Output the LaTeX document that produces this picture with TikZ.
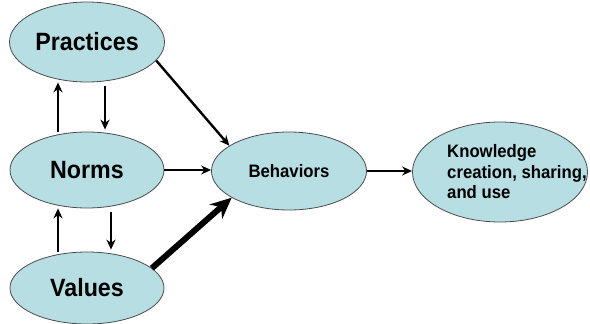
\documentclass[tikz,border=0pt]{standalone}
\usepackage{fontspec}
\setmainfont{Liberation Sans}[FakeStretch=0.93]
\usetikzlibrary{shapes.geometric, arrows.meta}
\definecolor{aqua}{RGB}{183,222,226}
\tikzset{>={Stealth[length=10pt,width=9pt]}}
\tikzset{blob/.style={ellipse, draw=black!70, line width=0.8pt, fill=aqua, inner sep=0pt},
  bigtext/.style={font=\bfseries\fontsize{25}{28}\selectfont},
  smalltext/.style={font=\bfseries\fontsize{18}{20.5}\selectfont},
  link/.style={->, line width=2.4pt}}

\begin{document}
\begin{tikzpicture}[x=1pt,y=-1pt]
    \useasboundingbox (0,0) rectangle (590,324);
    \node[blob, bigtext, minimum width=155, minimum height=80] (prac) at (87,42) {Practices};
    \node[blob, bigtext, minimum width=154, minimum height=76] (norms) at (87,170) {Norms};
    \node[blob, bigtext, minimum width=154, minimum height=72] (vals) at (87,288) {Values};
    \node[blob, smalltext, minimum width=155, minimum height=78] (behav) at (289,171) {Behaviors};
    \node[blob, minimum width=175, minimum height=100] (know) at (500,172) {};
    \node[smalltext, align=left, anchor=west, inner sep=0pt] (knowtext) at (447,172) {Knowledge\\creation, sharing,\\and use};
    \draw[link] ([xshift=-29]norms.north) -- ([xshift=-29]prac.south);
    \draw[link, shorten <=4pt, shorten >=2pt] ([xshift=18]prac.south) -- ([xshift=18]norms.north);
    \draw[link] ([xshift=-29]vals.north) -- ([xshift=-29]norms.south);
    \draw[link, shorten <=4pt, shorten >=2pt] ([xshift=24]norms.south) -- ([xshift=24]vals.north);
    \draw[link] (prac.-15) -- (behav.157);
    \draw[link] (norms.east) -- (norms.east -| behav.west);
    \draw[line width=6pt, -{Stealth[length=21pt,width=19pt]}] (vals.17) -- (behav.205);
    \draw[link] (behav.east) -- (behav.east -| know.west);
\end{tikzpicture}
\end{document}
